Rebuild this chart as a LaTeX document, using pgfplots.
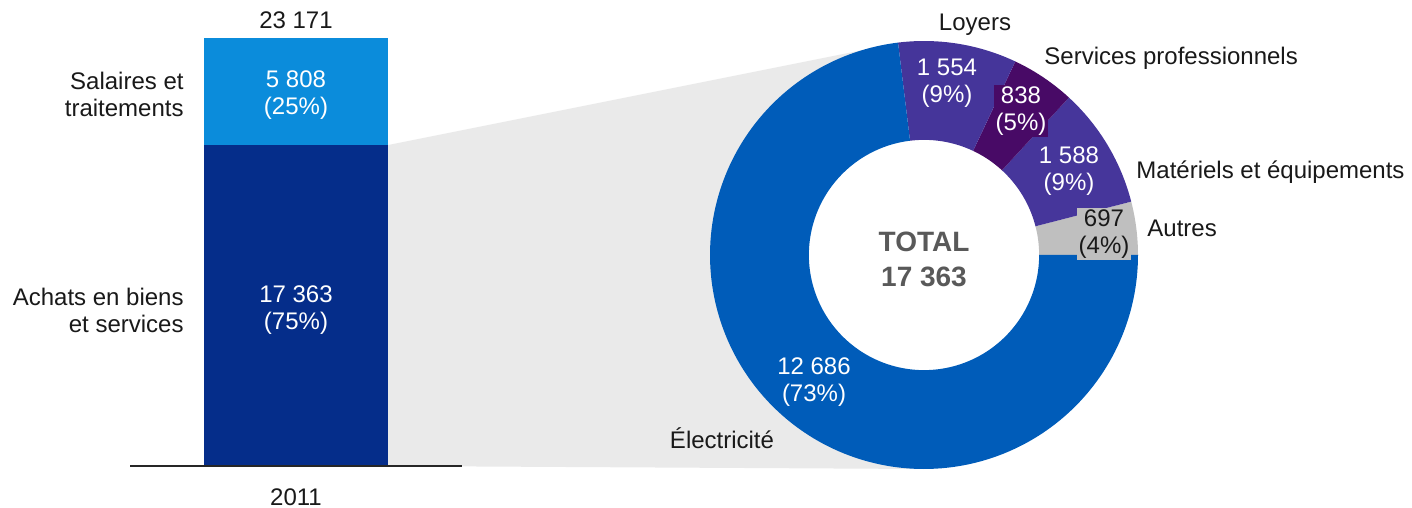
\documentclass[border=0pt]{standalone}
\usepackage{fontspec}
\setmainfont{Liberation Sans}
\usepackage{pgfplots}
\pgfplotsset{compat=1.18}
\usepgfplotslibrary{polar}

\definecolor{salaires}{HTML}{0B8CDB}
\definecolor{achats}{HTML}{052D8A}
\definecolor{elec}{HTML}{005CB9}
\definecolor{loyers}{HTML}{45359A}
\definecolor{servpro}{HTML}{480A66}
\definecolor{materiels}{HTML}{46369B}
\definecolor{autres}{HTML}{BFBFBF}
\definecolor{lien}{HTML}{EAEAEA}
\definecolor{totaltxt}{HTML}{595959}

% px frame of the reference, y counted from the top
\pgfplotsset{pxaxis/.style={scale only axis, width=706pt, height=254pt,
    xmin=0, xmax=1412, ymin=0, ymax=508, y dir=reverse,
    hide axis, clip=false, at={(0,0)}, anchor=south west}}

\tikzset{
  lbl/.style={font=\fontsize{12}{13.5}\selectfont, align=center, text=black!90, inner sep=1pt},
  val/.style={lbl, text=white, fill=#1},
}

% ring sector between two cumulative values (total 17 363)
\newcommand\inr{0.538}
\newcommand\donutsector[3]{%
  \edef\angA{\fpeval{#1*360/17363}}%
  \edef\angB{\fpeval{#2*360/17363}}%
  \edef\nseg{\fpeval{ceil((\angB-\angA)/1.5)}}%
  \gdef\pts{}%
  \foreach \i in {0,...,\nseg}{%
    \xdef\pts{\pts (\fpeval{\angA+(\angB-\angA)*\i/\nseg},1)}}%
  \foreach \i in {0,...,\nseg}{%
    \xdef\pts{\pts (\fpeval{\angB-(\angB-\angA)*\i/\nseg},\inr)}}%
  \edef\temp{\noexpand\addplot[fill=#3, draw=none] coordinates {\pts};}%
  \temp
}

\begin{document}
\begin{tikzpicture}
  \useasboundingbox (0,0) rectangle (706pt,254pt);
  % grey link between the bar and the ring
  \begin{axis}[pxaxis]
    \addplot[fill=lien, draw=none] coordinates
      {(388,145) (898,43) (773,104) (710,255) (773,406) (924,469) (388,466)};
  \end{axis}

  % stacked bar 2011
  \begin{axis}[scale only axis, width=166pt, height=213.5pt,
      at={(65pt,21.5pt)}, anchor=south west,
      xmin=130, xmax=462, ymin=0, ymax=23171, enlargelimits=false,
      hide axis, clip=false,
      ybar stacked, bar width=184]
    \addplot[fill=achats, draw=none] coordinates {(296,17363)};
    \addplot[fill=salaires, draw=none] coordinates {(296,5808)};
  \end{axis}

  % ring of achats en biens et services
  \begin{polaraxis}[scale only axis, width=214pt, height=214pt,
      at={(462pt,126.5pt)}, anchor=center,
      xmin=0, xmax=360, ymin=0, ymax=1, hide axis, clip=false]
    \donutsector{0}{697}{autres}
    \donutsector{697}{2285}{materiels}
    \donutsector{2285}{3123}{servpro}
    \donutsector{3123}{4677}{loyers}
    \donutsector{4677}{17363}{elec}
  \end{polaraxis}

  % baseline and texts
  \begin{axis}[pxaxis]
    \addplot[black!85, line width=0.9pt] coordinates {(130,466) (462,466)};
    \node[lbl] at (296,20) {23 171};
    \node[val=salaires] at (296,95) {5 808\\(25\%)};
    \node[val=achats] at (296,310) {17 363\\(75\%)};
    \node[lbl, align=right, anchor=east] at (186,94) {Salaires et\\traitements};
    \node[lbl, align=right, anchor=east] at (186,310) {Achats en biens\\et services};
    \node[lbl] at (296,497) {2011};

    \node[font=\fontsize{14}{17.5}\selectfont\bfseries, text=totaltxt, align=center] at (924,259) {TOTAL\\17 363};
    \node[val=loyers] at (947,83) {1 554\\(9\%)};
    \node[val=servpro] at (1021,111) {838\\(5\%)};
    \node[val=materiels] at (1069,171) {1 588\\(9\%)};
    \node[val=autres, text=black!90] at (1104,234) {697\\(4\%)};
    \node[val=elec] at (814,382) {12 686\\(73\%)};

    \node[lbl] at (975,25) {Loyers};
    \node[lbl, anchor=west] at (1042,58) {Services professionnels};
    \node[lbl, anchor=west] at (1134,172) {Matériels et équipements};
    \node[lbl, anchor=west] at (1145,228) {Autres};
    \node[lbl] at (722,438) {Électricité};
  \end{axis}
\end{tikzpicture}
\end{document}
